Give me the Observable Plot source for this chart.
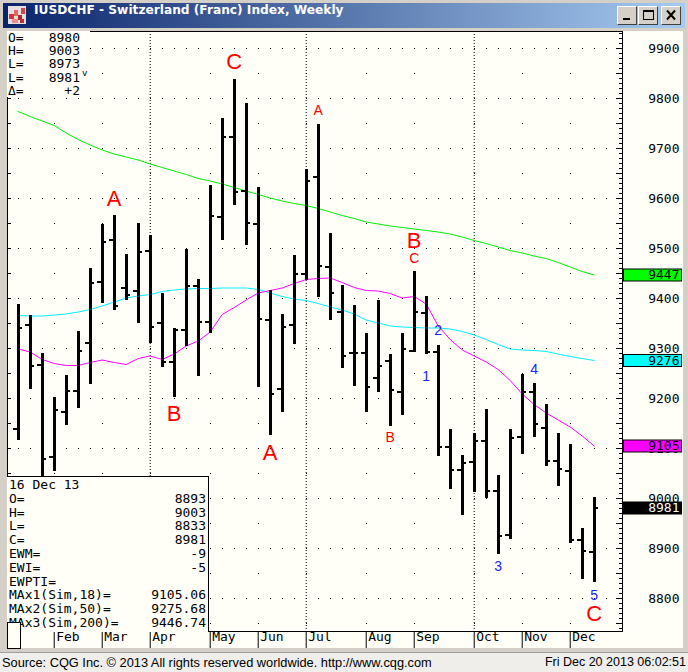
<!DOCTYPE html>
<html><head><meta charset="utf-8">
<script src="https://cdn.jsdelivr.net/npm/d3@7"></script>
<script src="https://cdn.jsdelivr.net/npm/@observablehq/plot@0.6"></script>
<style>
body{margin:0;width:688px;height:672px;overflow:hidden;background:#d4d0c8;position:relative;font-family:"DejaVu Sans Mono",monospace;color:#000;}
.abs{position:absolute;}
#title{left:3px;top:3px;width:682px;height:25px;background:linear-gradient(to right,#0a246a,#a6caf0);}
#titletext{left:31px;top:0;line-height:25px;color:#fff;font:bold 12.2px "DejaVu Sans",sans-serif;white-space:nowrap;}
.btn{top:3px;width:18px;height:17px;background:#d4d0c8;border:1px solid;border-color:#fff #404040 #404040 #fff;box-sizing:content-box;}
#panel{left:7px;top:31px;width:676px;height:617px;background:#fffff8;}
#chart{left:0;top:30px;}
#tl{left:7px;top:31px;width:83px;height:66px;background:#fffff8;font-size:13px;line-height:13.2px;}
#info{left:7px;top:476px;width:201px;height:154px;background:#fffff8;border-top:1px solid #000;border-right:1px solid #000;font-size:13px;line-height:13.8px;padding-top:1px;box-sizing:content-box;}
.row{position:relative;height:13.8px;white-space:pre;}
.lab{position:absolute;left:2px;top:0;}
.val{position:absolute;right:2px;top:0;}
#sq{left:7px;top:622px;width:12px;height:25px;background:#fffff8;border:1px solid #000;}
#status{left:0;top:652px;width:688px;height:20px;background:#efeeea;border-top:1px solid #a0a0a0;font:12.5px "Liberation Sans",Arial,sans-serif;line-height:19px;white-space:nowrap;}
</style></head><body>
<div id="title" class="abs">
  <svg class="abs" style="left:5px;top:3px" width="18" height="18">
    <rect x="0" y="0" width="18" height="18" fill="#e8e0e0"/>
    <rect x="1" y="8" width="5" height="5" fill="#c83838"/>
    <rect x="6" y="4" width="4" height="6" fill="#e06868"/>
    <rect x="10" y="9" width="4" height="5" fill="#b02828"/>
    <rect x="13" y="2" width="4" height="6" fill="#d04848"/>
    <rect x="4" y="13" width="6" height="4" fill="#e89090"/>
    <rect x="12" y="13" width="4" height="4" fill="#c03030"/>
  </svg>
  <div id="titletext" class="abs">IUSDCHF - Switzerland (Franc) Index, Weekly</div>
  <div class="btn abs" style="left:614px"><svg width="18" height="17"><rect x="5" y="11" width="7" height="2" fill="#000"/></svg></div>
  <div class="btn abs" style="left:635px"><svg width="18" height="17"><rect x="4.5" y="3.5" width="10" height="9" fill="none" stroke="#000"/><rect x="4" y="3" width="11" height="2" fill="#000"/></svg></div>
  <div class="btn abs" style="left:658px"><svg width="18" height="17"><path d="M5 3.5 L13 12.5 M13 3.5 L5 12.5" stroke="#000" stroke-width="2"/></svg></div>
</div>
<div id="panel" class="abs"></div>
<div id="chart" class="abs"></div>
<div id="tl" class="abs"></div>
<div id="info" class="abs"></div>
<div id="sq" class="abs"></div>
<div id="status" class="abs">
  <span class="abs" style="left:2px;font-size:12.8px">Source: CQG Inc. © 2013 All rights reserved worldwide. http://www.cqg.com</span>
  <span class="abs" style="right:2px">Fri Dec 20 2013 06:02:51</span>
</div>
<script>
// ---- data ----
const weeks = ["2013-01-14","2013-01-21","2013-01-28","2013-02-04","2013-02-11","2013-02-18","2013-02-25",
"2013-03-04","2013-03-11","2013-03-18","2013-03-25","2013-04-01","2013-04-08","2013-04-15","2013-04-22","2013-04-29",
"2013-05-06","2013-05-13","2013-05-20","2013-05-27","2013-06-03","2013-06-10","2013-06-17","2013-06-24",
"2013-07-01","2013-07-08","2013-07-15","2013-07-22","2013-07-29","2013-08-05","2013-08-12","2013-08-19","2013-08-26",
"2013-09-02","2013-09-09","2013-09-16","2013-09-23","2013-09-30","2013-10-07","2013-10-14","2013-10-21","2013-10-28",
"2013-11-04","2013-11-11","2013-11-18","2013-11-25","2013-12-02","2013-12-09","2013-12-16"];
const opens  = [9139,9348,9267,9083,9173,9216,9312,9433,9518,9421,9415,9496,9351,9274,9337,9426,9353,9564,9723,9615,9549,9358,9219,9348,
9449,9643,9463,9373,9291,9291,9241,9275,9214,9296,9371,9293,9103,9058,9073,9115,9015,8928,9124,9213,9141,9075,9056,8917,8893];
const highs  = [9389,9366,9291,9202,9246,9334,9461,9549,9566,9489,9551,9526,9411,9341,9498,9438,9626,9761,9838,9791,9623,9417,9368,9486,
9659,9749,9531,9426,9387,9331,9397,9289,9331,9454,9404,9307,9138,9086,9131,9178,9046,9138,9249,9231,9189,9131,9109,8941,9003];
const lows   = [9117,9219,9030,9055,9146,9181,9229,9391,9377,9396,9351,9311,9263,9203,9305,9245,9331,9517,9587,9507,9223,9126,9173,9309,
9436,9403,9357,9261,9225,9173,9213,9145,9167,9293,9288,9085,9019,8966,9013,9001,8889,8919,9089,9123,9064,9025,8911,8839,8833];
const closes = [9341,9265,9079,9177,9216,9295,9431,9513,9386,9407,9493,9343,9273,9337,9426,9353,9566,9723,9613,9551,9359,9209,9343,9449,
9636,9465,9411,9285,9291,9224,9265,9218,9299,9373,9294,9103,9058,9071,9116,9016,8926,9121,9213,9149,9076,9059,8918,8895,8981];
const ma18  = [9299,9293,9278,9270,9266,9266,9272,9277,9272,9268,9280,9285,9278,9289,9305,9315,9333,9368,9382,9397,9411,9416,9421,9430,
9438,9440,9441,9432,9422,9416,9415,9410,9401,9404,9389,9345,9318,9297,9285,9273,9258,9236,9209,9188,9171,9157,9143,9125,9105];
const ma50  = [9366,9365,9365,9367,9369,9373,9378,9385,9393,9401,9405,9408,9414,9417,9419,9420,9420,9421,9421,9421,9418,9411,9404,9399,
9396,9390,9383,9377,9369,9357,9351,9345,9343,9342,9341,9341,9339,9334,9327,9318,9308,9299,9297,9296,9294,9289,9284,9280,9276];
const ma200 = [9774,9764,9755,9746,9731,9718,9707,9697,9689,9683,9677,9669,9662,9655,9648,9640,9635,9629,9622,9615,9608,9601,9595,9590,
9586,9580,9573,9566,9560,9553,9549,9545,9542,9539,9536,9533,9529,9523,9516,9510,9503,9496,9491,9485,9480,9472,9463,9454,9447];

const monthDates  = ["2013-02-04","2013-03-04","2013-04-01","2013-05-06","2013-06-03","2013-07-01","2013-08-05","2013-09-02","2013-10-07","2013-11-04","2013-12-02"];
const monthLabels = ["Feb","Mar","Apr","May","Jun","Jul","Aug","Sep","Oct","Nov","Dec"];
const quarterDates = ["2013-04-01","2013-07-01","2013-10-07"];
const yTicks = [8800,8900,9000,9100,9200,9300,9400,9500,9600,9700,9800,9900];
const yHalf  = [8750,8850,8950,9050,9150,9250,9350,9450,9550,9650,9750,9850];

const tagValues = [9447,9276,9105,8981];
const tagLabels = ["9447","9276","9105","8981"];
const tagFills  = ["#00ff00","#00ffff","#ff00ff","#000000"];
const tagText   = ["#000","#000","#000","#fff"];

const bigLabels = ["A","B","C","A","B","C"];
const bigWeeks  = ["2013-03-11","2013-04-15","2013-05-20","2013-06-10","2013-09-02","2013-12-16"];
const bigPrices = [9600,9170,9874,9092,9516,8769];
const smallLabels = ["A","C","B"];
const smallWeeks  = ["2013-07-08","2013-09-02","2013-08-19"];
const smallPrices = [9776,9479,9122];
const waveLabels = ["1","2","3","4","5"];
const waveWeeks  = ["2013-09-09","2013-09-16","2013-10-21","2013-11-11","2013-12-16"];
const wavePrices = [9244,9335,8864,9258,8806];

const tlLabels = ["O=","H=","L=","L=","Δ="];
const tlValues = ["8980","9003","8973","8981","+2"];
const infoLabels = ["16 Dec 13","O=","H=","L=","C=","EWM=","EWI=","EWPTI=","MAx1(Sim,18)=","MAx2(Sim,50)=","MAx3(Sim,200)="];
const infoValues = ["","8893","9003","8833","8981","-9","-5","","9105.06","9275.68","9446.74"];

// ---- build ----
const parse = d3.utcParse("%Y-%m-%d");
const DAY = 864e5;
const bars = weeks.map((w,i)=>({date:parse(w),open:opens[i],high:highs[i],low:lows[i],close:closes[i],ma18:ma18[i],ma50:ma50[i],ma200:ma200[i]}));
const gridWeeks = weeks.concat(["2013-12-23"]).map(parse);
const grid100 = yTicks.flatMap(y=>gridWeeks.map(d=>({date:d,y})));
const grid50 = yHalf.flatMap(y=>monthDates.map(d=>({date:parse(d),y})));
const leftTicks = d3.range(8750, 9901, 50);
const rightMinor = d3.range(8740, 9931, 10);
const months = monthDates.map((d,i)=>({date:parse(d),label:monthLabels[i]}));
const tags = tagValues.map((v,i)=>({v,label:tagLabels[i],fill:tagFills[i],text:tagText[i]}));
const mk = (L,W,P)=>L.map((l,i)=>({label:l,date:parse(W[i]),price:P[i]}));
const big = mk(bigLabels,bigWeeks,bigPrices), small = mk(smallLabels,smallWeeks,smallPrices), wave = mk(waveLabels,waveWeeks,wavePrices);
const tick = 2.6*DAY;

const chart = Plot.plot({
  width: 688, height: 621,
  marginTop: 1, marginBottom: 20, marginLeft: 7, marginRight: 66,
  x: {type:"utc", domain:[new Date(Date.UTC(2013,0,7,18)), new Date(Date.UTC(2014,0,1,12))], axis:null},
  y: {domain:[8734, 9934], axis:null},
  style: {background:"none", fontFamily:"'DejaVu Sans Mono', monospace", fontSize:"13px", color:"#000", overflow:"visible"},
  marks: [
    Plot.ruleX(quarterDates.map(parse), {stroke:"#000", strokeDasharray:"1,2"}),
    Plot.dot(grid100, {x:"date", y:"y", r:0.6, symbol:"square", fill:"#000", shapeRendering:"crispEdges"}),
    Plot.dot(grid50, {x:"date", y:"y", r:0.8, symbol:"square", fill:"#000", shapeRendering:"crispEdges"}),
    Plot.ruleY(leftTicks, {y:d=>d, insetRight:611, stroke:"#000"}),
    Plot.ruleY(rightMinor, {y:d=>d, insetLeft:612, stroke:"#000"}),
    Plot.ruleY(leftTicks, {y:d=>d, insetLeft:609, stroke:"#000"}),
    Plot.line(bars, {x:"date", y:"ma200", stroke:"#00ee00", strokeWidth:1}),
    Plot.line(bars, {x:"date", y:"ma50", stroke:"#00eeff", strokeWidth:1}),
    Plot.line(bars, {x:"date", y:"ma18", stroke:"#ff00ff", strokeWidth:1}),
    Plot.ruleX(bars, {x:"date", y1:"low", y2:"high", stroke:"#000", strokeWidth:3, shapeRendering:"crispEdges"}),
    Plot.ruleY(bars, {y:"open", x1:d=>new Date(+d.date - tick), x2:"date", stroke:"#000", strokeWidth:2, shapeRendering:"crispEdges"}),
    Plot.ruleY(bars, {y:"close", x1:"date", x2:d=>new Date(+d.date + tick), stroke:"#000", strokeWidth:2, shapeRendering:"crispEdges"}),
    Plot.text(big, {x:"date", y:"price", text:"label", fill:"#ff0000", fontSize:22, fontFamily:"'Liberation Sans', Arial, sans-serif"}),
    Plot.text(small, {x:"date", y:"price", text:"label", fill:"#ff0000", fontSize:14, fontFamily:"'Liberation Sans', Arial, sans-serif"}),
    Plot.text(wave, {x:"date", y:"price", text:"label", fill:"#2222ff", fontSize:14, fontFamily:"'Liberation Sans', Arial, sans-serif"}),
    Plot.frame({stroke:"#000"}),
    Plot.ruleX(months, {x:"date", insetTop:600, insetBottom:-17, stroke:"#000"}),
    Plot.text(months, {x:"date", text:"label", frameAnchor:"bottom", dy:9, dx:2, textAnchor:"start", fill:"#000"}),
    Plot.text(yTicks, {y:d=>d, text:d=>String(d), frameAnchor:"right", dx:57, textAnchor:"end", fill:"#000"}),
    Plot.ruleY(tags, {y:"v", insetLeft:616, insetRight:-60, stroke:"#000", strokeWidth:13}),
    Plot.ruleY(tags, {y:"v", insetLeft:617, insetRight:-59, stroke:"fill", strokeWidth:11}),
    Plot.text(tags, {y:"v", text:"label", frameAnchor:"right", dx:57, textAnchor:"end", fill:"text"})
  ]
});
document.getElementById("chart").appendChild(chart);

// info boxes
const tl = document.getElementById("tl");
tlLabels.forEach((l,i)=>{
  const r = document.createElement("div");
  r.className="row"; r.style.height="13.2px";
  r.innerHTML = `<span class="lab" style="left:1px">${l}</span><span class="val" style="right:10px">${tlValues[i]}</span>` + (i===3?`<span class="abs" style="left:75px;top:-4px;font-size:9px">v</span>`:"");
  tl.appendChild(r);
});
const info = document.getElementById("info");
infoLabels.forEach((l,i)=>{
  const r = document.createElement("div");
  r.className="row";
  r.innerHTML = `<span class="lab">${l}</span><span class="val">${infoValues[i]}</span>`;
  info.appendChild(r);
});
</script>
</body></html>
